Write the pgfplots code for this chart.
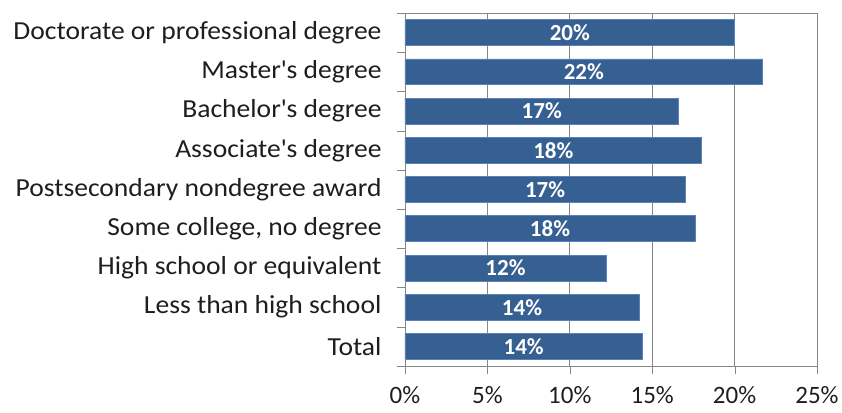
\documentclass[border=0pt]{standalone}
\usepackage{pgfplots}
\pgfplotsset{compat=1.18}
\usepackage{pgfplotstable}
\usepackage{fontspec}
\setmainfont{Carlito}
\newfontfamily\widefont{Carlito}[FakeStretch=1.06]
\definecolor{barblue}{RGB}{55,96,146}
\definecolor{baredge}{RGB}{90,130,185}
\definecolor{axisgray}{RGB}{134,134,134}
\definecolor{labelgray}{RGB}{30,30,30}

% idx 0 = top category
\pgfplotstableread{
idx share
0 20.0
1 21.7
2 16.6
3 18.0
4 17.0
5 17.6
6 12.2
7 14.2
8 14.4
}\sharetable

\begin{document}
\begin{tikzpicture}
\path[use as bounding box] (-405pt,-46pt) rectangle (437pt,366pt);
\begin{axis}[
at={(0pt,0pt)}, anchor=south west,
scale only axis, width=412pt, height=353pt,
bar width=0.66,
xmin=0, xmax=25, xtick={0,5,...,25},
xticklabel={\pgfmathprintnumber[assume math mode=true]{\tick}\%},
ymin=-0.5, ymax=8.5, y dir=reverse,
ytick={0,...,8},
yticklabels={Doctorate or professional degree, Master\textquotesingle s degree, Bachelor\textquotesingle s degree,
  Associate\textquotesingle s degree, Postsecondary nondegree award, Some college{,} no degree,
  High school or equivalent, Less than high school, Total},
minor ytick={-0.5,0.5,...,8.5},
tick pos=left, tick align=outside,
major tick length=8pt, minor tick length=8pt,
y tick style={draw=none},
minor y tick style={draw=axisgray},
x tick style={draw=axisgray},
xmajorgrids, grid style={axisgray, line width=0.8pt},
axis line style={axisgray, line width=0.8pt},
yticklabel style={font=\widefont\fontsize{26}{30}\selectfont, text=labelgray, xshift=-12pt},
xticklabel style={font=\fontsize{25}{29}\selectfont, text=labelgray, inner sep=1pt, yshift=-11pt},
]
\addplot[xbar, fill=barblue, draw=baredge, line width=0.6pt]
  table[x=share, y=idx] {\sharetable};
\addplot[draw=none, mark=none, point meta=explicit,
  nodes near coords={\pgfmathprintnumber[fixed, precision=0, assume math mode=true]{\pgfplotspointmeta}\%},
  every node near coord/.style={anchor=center, text=white, font=\fontsize{23}{26}\selectfont\bfseries}]
  table[x expr=\thisrow{share}/2, y=idx, meta=share] {\sharetable};
\end{axis}
\end{tikzpicture}
\end{document}
